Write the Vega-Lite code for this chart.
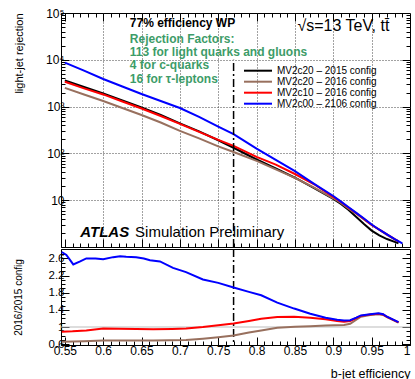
{
  "$schema": "https://vega.github.io/schema/vega-lite/v6.json",
  "background": "white",
  "padding": {"left": 12, "top": 6, "right": 3, "bottom": 0},
  "bounds": "flush",
  "config": {
    "font": "Liberation Sans",
    "view": {"stroke": "black", "strokeWidth": 1},
    "axis": {"domainColor": "black", "tickColor": "black", "labelColor": "black", "titleColor": "black", "labelFont": "Liberation Sans", "titleFont": "Liberation Sans", "titleFontWeight": "normal", "labelOverlap": false}
  },
  "datasets": {
    "eff": [
      {"eff": 0.55, "rej": 3631, "tagger": "MV2c20 – 2015 config"},
      {"eff": 0.575, "rej": 2630, "tagger": "MV2c20 – 2015 config"},
      {"eff": 0.6, "rej": 1905, "tagger": "MV2c20 – 2015 config"},
      {"eff": 0.625, "rej": 1349, "tagger": "MV2c20 – 2015 config"},
      {"eff": 0.65, "rej": 955, "tagger": "MV2c20 – 2015 config"},
      {"eff": 0.675, "rej": 661, "tagger": "MV2c20 – 2015 config"},
      {"eff": 0.7, "rej": 437, "tagger": "MV2c20 – 2015 config"},
      {"eff": 0.725, "rej": 295, "tagger": "MV2c20 – 2015 config"},
      {"eff": 0.75, "rej": 191, "tagger": "MV2c20 – 2015 config"},
      {"eff": 0.77, "rej": 132, "tagger": "MV2c20 – 2015 config"},
      {"eff": 0.8, "rej": 74.1, "tagger": "MV2c20 – 2015 config"},
      {"eff": 0.825, "rej": 47.9, "tagger": "MV2c20 – 2015 config"},
      {"eff": 0.85, "rej": 30.2, "tagger": "MV2c20 – 2015 config"},
      {"eff": 0.875, "rej": 18.2, "tagger": "MV2c20 – 2015 config"},
      {"eff": 0.9, "rej": 10.7, "tagger": "MV2c20 – 2015 config"},
      {"eff": 0.91, "rej": 8.32, "tagger": "MV2c20 – 2015 config"},
      {"eff": 0.92, "rej": 6.17, "tagger": "MV2c20 – 2015 config"},
      {"eff": 0.93, "rej": 4.37, "tagger": "MV2c20 – 2015 config"},
      {"eff": 0.94, "rej": 3.09, "tagger": "MV2c20 – 2015 config"},
      {"eff": 0.95, "rej": 2.24, "tagger": "MV2c20 – 2015 config"},
      {"eff": 0.96, "rej": 1.78, "tagger": "MV2c20 – 2015 config"},
      {"eff": 0.97, "rej": 1.48, "tagger": "MV2c20 – 2015 config"},
      {"eff": 0.98, "rej": 1.29, "tagger": "MV2c20 – 2015 config"},
      {"eff": 0.985, "rej": 1.2, "tagger": "MV2c20 – 2015 config"},

      {"eff": 0.55, "rej": 2512, "tagger": "MV2c20 – 2016 config"},
      {"eff": 0.575, "rej": 1820, "tagger": "MV2c20 – 2016 config"},
      {"eff": 0.6, "rej": 1318, "tagger": "MV2c20 – 2016 config"},
      {"eff": 0.625, "rej": 933, "tagger": "MV2c20 – 2016 config"},
      {"eff": 0.65, "rej": 661, "tagger": "MV2c20 – 2016 config"},
      {"eff": 0.675, "rej": 457, "tagger": "MV2c20 – 2016 config"},
      {"eff": 0.7, "rej": 302, "tagger": "MV2c20 – 2016 config"},
      {"eff": 0.725, "rej": 209, "tagger": "MV2c20 – 2016 config"},
      {"eff": 0.75, "rej": 141, "tagger": "MV2c20 – 2016 config"},
      {"eff": 0.77, "rej": 107, "tagger": "MV2c20 – 2016 config"},
      {"eff": 0.8, "rej": 69.2, "tagger": "MV2c20 – 2016 config"},
      {"eff": 0.825, "rej": 45.7, "tagger": "MV2c20 – 2016 config"},
      {"eff": 0.85, "rej": 30.0, "tagger": "MV2c20 – 2016 config"},
      {"eff": 0.875, "rej": 18.6, "tagger": "MV2c20 – 2016 config"},
      {"eff": 0.9, "rej": 11.0, "tagger": "MV2c20 – 2016 config"},
      {"eff": 0.91, "rej": 8.71, "tagger": "MV2c20 – 2016 config"},
      {"eff": 0.92, "rej": 6.61, "tagger": "MV2c20 – 2016 config"},
      {"eff": 0.93, "rej": 5.13, "tagger": "MV2c20 – 2016 config"},
      {"eff": 0.94, "rej": 3.89, "tagger": "MV2c20 – 2016 config"},
      {"eff": 0.95, "rej": 2.95, "tagger": "MV2c20 – 2016 config"},
      {"eff": 0.96, "rej": 2.34, "tagger": "MV2c20 – 2016 config"},
      {"eff": 0.97, "rej": 1.82, "tagger": "MV2c20 – 2016 config"},
      {"eff": 0.98, "rej": 1.45, "tagger": "MV2c20 – 2016 config"},
      {"eff": 0.985, "rej": 1.32, "tagger": "MV2c20 – 2016 config"},

      {"eff": 0.55, "rej": 3388, "tagger": "MV2c10 – 2016 config"},
      {"eff": 0.575, "rej": 2455, "tagger": "MV2c10 – 2016 config"},
      {"eff": 0.6, "rej": 1820, "tagger": "MV2c10 – 2016 config"},
      {"eff": 0.625, "rej": 1288, "tagger": "MV2c10 – 2016 config"},
      {"eff": 0.65, "rej": 912, "tagger": "MV2c10 – 2016 config"},
      {"eff": 0.675, "rej": 631, "tagger": "MV2c10 – 2016 config"},
      {"eff": 0.7, "rej": 427, "tagger": "MV2c10 – 2016 config"},
      {"eff": 0.725, "rej": 288, "tagger": "MV2c10 – 2016 config"},
      {"eff": 0.75, "rej": 195, "tagger": "MV2c10 – 2016 config"},
      {"eff": 0.77, "rej": 145, "tagger": "MV2c10 – 2016 config"},
      {"eff": 0.8, "rej": 84, "tagger": "MV2c10 – 2016 config"},
      {"eff": 0.825, "rej": 57.5, "tagger": "MV2c10 – 2016 config"},
      {"eff": 0.85, "rej": 36.3, "tagger": "MV2c10 – 2016 config"},
      {"eff": 0.875, "rej": 21.9, "tagger": "MV2c10 – 2016 config"},
      {"eff": 0.9, "rej": 11.8, "tagger": "MV2c10 – 2016 config"},
      {"eff": 0.91, "rej": 9.2, "tagger": "MV2c10 – 2016 config"},
      {"eff": 0.92, "rej": 6.92, "tagger": "MV2c10 – 2016 config"},
      {"eff": 0.93, "rej": 5.25, "tagger": "MV2c10 – 2016 config"},
      {"eff": 0.94, "rej": 3.98, "tagger": "MV2c10 – 2016 config"},
      {"eff": 0.95, "rej": 2.95, "tagger": "MV2c10 – 2016 config"},
      {"eff": 0.96, "rej": 2.34, "tagger": "MV2c10 – 2016 config"},
      {"eff": 0.97, "rej": 1.86, "tagger": "MV2c10 – 2016 config"},
      {"eff": 0.98, "rej": 1.48, "tagger": "MV2c10 – 2016 config"},
      {"eff": 0.985, "rej": 1.32, "tagger": "MV2c10 – 2016 config"},

      {"eff": 0.55, "rej": 8710, "tagger": "MV2c00 – 2106 config"},
      {"eff": 0.575, "rej": 5888, "tagger": "MV2c00 – 2106 config"},
      {"eff": 0.6, "rej": 3890, "tagger": "MV2c00 – 2106 config"},
      {"eff": 0.625, "rej": 2692, "tagger": "MV2c00 – 2106 config"},
      {"eff": 0.65, "rej": 1862, "tagger": "MV2c00 – 2106 config"},
      {"eff": 0.675, "rej": 1318, "tagger": "MV2c00 – 2106 config"},
      {"eff": 0.7, "rej": 933, "tagger": "MV2c00 – 2106 config"},
      {"eff": 0.725, "rej": 603, "tagger": "MV2c00 – 2106 config"},
      {"eff": 0.75, "rej": 372, "tagger": "MV2c00 – 2106 config"},
      {"eff": 0.77, "rej": 257, "tagger": "MV2c00 – 2106 config"},
      {"eff": 0.8, "rej": 126, "tagger": "MV2c00 – 2106 config"},
      {"eff": 0.825, "rej": 72.4, "tagger": "MV2c00 – 2106 config"},
      {"eff": 0.85, "rej": 41.7, "tagger": "MV2c00 – 2106 config"},
      {"eff": 0.875, "rej": 22.4, "tagger": "MV2c00 – 2106 config"},
      {"eff": 0.9, "rej": 12.3, "tagger": "MV2c00 – 2106 config"},
      {"eff": 0.91, "rej": 9.3, "tagger": "MV2c00 – 2106 config"},
      {"eff": 0.92, "rej": 7.08, "tagger": "MV2c00 – 2106 config"},
      {"eff": 0.93, "rej": 5.37, "tagger": "MV2c00 – 2106 config"},
      {"eff": 0.94, "rej": 4.07, "tagger": "MV2c00 – 2106 config"},
      {"eff": 0.95, "rej": 3.02, "tagger": "MV2c00 – 2106 config"},
      {"eff": 0.96, "rej": 2.34, "tagger": "MV2c00 – 2106 config"},
      {"eff": 0.97, "rej": 1.86, "tagger": "MV2c00 – 2106 config"},
      {"eff": 0.98, "rej": 1.48, "tagger": "MV2c00 – 2106 config"},
      {"eff": 0.99, "rej": 1.2, "tagger": "MV2c00 – 2106 config"}
    ],
    "ratio": [
      {"eff": 0.546, "ratio": 0.655, "tagger": "MV2c20 – 2016 config"},
      {"eff": 0.575, "ratio": 0.67, "tagger": "MV2c20 – 2016 config"},
      {"eff": 0.6, "ratio": 0.687, "tagger": "MV2c20 – 2016 config"},
      {"eff": 0.665, "ratio": 0.687, "tagger": "MV2c20 – 2016 config"},
      {"eff": 0.708, "ratio": 0.694, "tagger": "MV2c20 – 2016 config"},
      {"eff": 0.73, "ratio": 0.725, "tagger": "MV2c20 – 2016 config"},
      {"eff": 0.75, "ratio": 0.76, "tagger": "MV2c20 – 2016 config"},
      {"eff": 0.77, "ratio": 0.8, "tagger": "MV2c20 – 2016 config"},
      {"eff": 0.79, "ratio": 0.87, "tagger": "MV2c20 – 2016 config"},
      {"eff": 0.806, "ratio": 0.92, "tagger": "MV2c20 – 2016 config"},
      {"eff": 0.827, "ratio": 0.98, "tagger": "MV2c20 – 2016 config"},
      {"eff": 0.85, "ratio": 1.005, "tagger": "MV2c20 – 2016 config"},
      {"eff": 0.87, "ratio": 1.02, "tagger": "MV2c20 – 2016 config"},
      {"eff": 0.89, "ratio": 1.035, "tagger": "MV2c20 – 2016 config"},
      {"eff": 0.914, "ratio": 1.045, "tagger": "MV2c20 – 2016 config"},
      {"eff": 0.922, "ratio": 1.075, "tagger": "MV2c20 – 2016 config"},
      {"eff": 0.93, "ratio": 1.17, "tagger": "MV2c20 – 2016 config"},
      {"eff": 0.936, "ratio": 1.24, "tagger": "MV2c20 – 2016 config"},
      {"eff": 0.948, "ratio": 1.28, "tagger": "MV2c20 – 2016 config"},
      {"eff": 0.959, "ratio": 1.3, "tagger": "MV2c20 – 2016 config"},
      {"eff": 0.965, "ratio": 1.28, "tagger": "MV2c20 – 2016 config"},
      {"eff": 0.97, "ratio": 1.23, "tagger": "MV2c20 – 2016 config"},
      {"eff": 0.985, "ratio": 1.1, "tagger": "MV2c20 – 2016 config"},

      {"eff": 0.546, "ratio": 0.89, "tagger": "MV2c10 – 2016 config"},
      {"eff": 0.56, "ratio": 0.9, "tagger": "MV2c10 – 2016 config"},
      {"eff": 0.578, "ratio": 0.92, "tagger": "MV2c10 – 2016 config"},
      {"eff": 0.6, "ratio": 0.965, "tagger": "MV2c10 – 2016 config"},
      {"eff": 0.62, "ratio": 0.96, "tagger": "MV2c10 – 2016 config"},
      {"eff": 0.643, "ratio": 0.955, "tagger": "MV2c10 – 2016 config"},
      {"eff": 0.665, "ratio": 0.945, "tagger": "MV2c10 – 2016 config"},
      {"eff": 0.69, "ratio": 0.955, "tagger": "MV2c10 – 2016 config"},
      {"eff": 0.708, "ratio": 0.967, "tagger": "MV2c10 – 2016 config"},
      {"eff": 0.73, "ratio": 0.998, "tagger": "MV2c10 – 2016 config"},
      {"eff": 0.75, "ratio": 1.04, "tagger": "MV2c10 – 2016 config"},
      {"eff": 0.77, "ratio": 1.08, "tagger": "MV2c10 – 2016 config"},
      {"eff": 0.79, "ratio": 1.14, "tagger": "MV2c10 – 2016 config"},
      {"eff": 0.806, "ratio": 1.19, "tagger": "MV2c10 – 2016 config"},
      {"eff": 0.827, "ratio": 1.235, "tagger": "MV2c10 – 2016 config"},
      {"eff": 0.849, "ratio": 1.24, "tagger": "MV2c10 – 2016 config"},
      {"eff": 0.87, "ratio": 1.215, "tagger": "MV2c10 – 2016 config"},
      {"eff": 0.89, "ratio": 1.18, "tagger": "MV2c10 – 2016 config"},
      {"eff": 0.905, "ratio": 1.14, "tagger": "MV2c10 – 2016 config"},
      {"eff": 0.914, "ratio": 1.12, "tagger": "MV2c10 – 2016 config"},
      {"eff": 0.922, "ratio": 1.14, "tagger": "MV2c10 – 2016 config"},
      {"eff": 0.93, "ratio": 1.21, "tagger": "MV2c10 – 2016 config"},
      {"eff": 0.936, "ratio": 1.26, "tagger": "MV2c10 – 2016 config"},
      {"eff": 0.948, "ratio": 1.29, "tagger": "MV2c10 – 2016 config"},
      {"eff": 0.959, "ratio": 1.31, "tagger": "MV2c10 – 2016 config"},
      {"eff": 0.965, "ratio": 1.29, "tagger": "MV2c10 – 2016 config"},
      {"eff": 0.97, "ratio": 1.235, "tagger": "MV2c10 – 2016 config"},
      {"eff": 0.985, "ratio": 1.11, "tagger": "MV2c10 – 2016 config"},

      {"eff": 0.546, "ratio": 2.75, "tagger": "MV2c00 – 2106 config"},
      {"eff": 0.552, "ratio": 2.68, "tagger": "MV2c00 – 2106 config"},
      {"eff": 0.561, "ratio": 2.46, "tagger": "MV2c00 – 2106 config"},
      {"eff": 0.57, "ratio": 2.53, "tagger": "MV2c00 – 2106 config"},
      {"eff": 0.578, "ratio": 2.6, "tagger": "MV2c00 – 2106 config"},
      {"eff": 0.59, "ratio": 2.6, "tagger": "MV2c00 – 2106 config"},
      {"eff": 0.6, "ratio": 2.58, "tagger": "MV2c00 – 2106 config"},
      {"eff": 0.613, "ratio": 2.63, "tagger": "MV2c00 – 2106 config"},
      {"eff": 0.622, "ratio": 2.65, "tagger": "MV2c00 – 2106 config"},
      {"eff": 0.63, "ratio": 2.64, "tagger": "MV2c00 – 2106 config"},
      {"eff": 0.643, "ratio": 2.63, "tagger": "MV2c00 – 2106 config"},
      {"eff": 0.653, "ratio": 2.6, "tagger": "MV2c00 – 2106 config"},
      {"eff": 0.661, "ratio": 2.56, "tagger": "MV2c00 – 2106 config"},
      {"eff": 0.674, "ratio": 2.53, "tagger": "MV2c00 – 2106 config"},
      {"eff": 0.691, "ratio": 2.38, "tagger": "MV2c00 – 2106 config"},
      {"eff": 0.708, "ratio": 2.28, "tagger": "MV2c00 – 2106 config"},
      {"eff": 0.73, "ratio": 2.11, "tagger": "MV2c00 – 2106 config"},
      {"eff": 0.75, "ratio": 2.03, "tagger": "MV2c00 – 2106 config"},
      {"eff": 0.77, "ratio": 1.92, "tagger": "MV2c00 – 2106 config"},
      {"eff": 0.79, "ratio": 1.82, "tagger": "MV2c00 – 2106 config"},
      {"eff": 0.806, "ratio": 1.74, "tagger": "MV2c00 – 2106 config"},
      {"eff": 0.827, "ratio": 1.57, "tagger": "MV2c00 – 2106 config"},
      {"eff": 0.849, "ratio": 1.43, "tagger": "MV2c00 – 2106 config"},
      {"eff": 0.87, "ratio": 1.31, "tagger": "MV2c00 – 2106 config"},
      {"eff": 0.89, "ratio": 1.215, "tagger": "MV2c00 – 2106 config"},
      {"eff": 0.905, "ratio": 1.17, "tagger": "MV2c00 – 2106 config"},
      {"eff": 0.914, "ratio": 1.15, "tagger": "MV2c00 – 2106 config"},
      {"eff": 0.922, "ratio": 1.16, "tagger": "MV2c00 – 2106 config"},
      {"eff": 0.93, "ratio": 1.22, "tagger": "MV2c00 – 2106 config"},
      {"eff": 0.936, "ratio": 1.27, "tagger": "MV2c00 – 2106 config"},
      {"eff": 0.948, "ratio": 1.3, "tagger": "MV2c00 – 2106 config"},
      {"eff": 0.959, "ratio": 1.32, "tagger": "MV2c00 – 2106 config"},
      {"eff": 0.965, "ratio": 1.3, "tagger": "MV2c00 – 2106 config"},
      {"eff": 0.97, "ratio": 1.24, "tagger": "MV2c00 – 2106 config"},
      {"eff": 0.985, "ratio": 1.115, "tagger": "MV2c00 – 2106 config"}
    ]
  },
  "spacing": 2,
  "resolve": {"scale": {"color": "independent"}},
  "vconcat": [
    {
      "width": 349,
      "height": 234,
      "resolve": {"axis": {"x": "independent", "y": "independent"}},
      "layer": [
        {
          "data": {"name": "eff"},
          "mark": {"type": "line", "strokeWidth": 2, "clip": true},
          "encoding": {
            "x": {
              "field": "eff", "type": "quantitative",
              "scale": {"domain": [0.545, 1.0], "nice": false, "zero": false},
              "axis": {
                "values": [0.55,0.56,0.57,0.58,0.59,0.6,0.61,0.62,0.63,0.64,0.65,0.66,0.67,0.68,0.69,0.7,0.71,0.72,0.73,0.74,0.75,0.76,0.77,0.78,0.79,0.8,0.81,0.82,0.83,0.84,0.85,0.86,0.87,0.88,0.89,0.9,0.91,0.92,0.93,0.94,0.95,0.96,0.97,0.98,0.99],
                "tickCount": 200,
                "labels": false, "title": null, "maxExtent": 0, "minExtent": 0,
                "tickSize": {"condition": {"test": "abs(datum.value*20-round(datum.value*20))<0.001", "value": -8}, "value": -4},
                "grid": true, "gridDash": [1, 2], "gridColor": "#444",
                "gridOpacity": {"condition": {"test": "abs(datum.value*20-round(datum.value*20))<0.001 && datum.value>0.56", "value": 1}, "value": 0}
              }
            },
            "y": {
              "field": "rej", "type": "quantitative",
              "scale": {"type": "log", "domain": [1, 100000], "nice": false},
              "axis": {
                "values": [2,3,4,5,6,7,8,9,10,20,30,40,50,60,70,80,90,100,200,300,400,500,600,700,800,900,1000,2000,3000,4000,5000,6000,7000,8000,9000,10000,20000,30000,40000,50000,60000,70000,80000,90000,100000],
                "tickCount": 200,
                "labelExpr": "datum.value==10?'10':datum.value==100?'10²':datum.value==1000?'10³':datum.value==10000?'10⁴':datum.value==100000?'10⁵':''",
                "labelFontSize": 12, "labelPadding": 5, "labelOverlap": false,
                "title": "light-jet rejection", "titleAnchor": "end", "titleFontSize": 11, "titlePadding": 21,
                "tickSize": {"condition": {"test": "abs(log(datum.value)/LN10-round(log(datum.value)/LN10))<0.001", "value": -8}, "value": -4},
                "grid": true, "gridDash": [1, 2], "gridColor": "#444",
                "gridOpacity": {"condition": {"test": "datum.value==10||datum.value==100||datum.value==1000||datum.value==10000", "value": 1}, "value": 0}
              }
            },
            "color": {
              "field": "tagger", "type": "nominal",
              "scale": {"domain": ["MV2c20 – 2015 config", "MV2c20 – 2016 config", "MV2c10 – 2016 config", "MV2c00 – 2106 config"], "range": ["#000000", "#98705e", "#ff0000", "#0000ff"]},
              "legend": {"orient": "none", "legendX": 191, "legendY": 51.7, "title": null, "symbolType": "M-2.8,0H2.8", "symbolSize": 100, "symbolStrokeWidth": 2, "labelFontSize": 10, "labelFont": "Liberation Sans", "labelColor": "black", "labelOffset": 13, "rowPadding": 0}
            }
          }
        },
        {
          "data": {"values": [{}]},
          "mark": {"type": "rule", "strokeDash": [8, 3, 2, 3], "strokeWidth": 1.5, "color": "black"},
          "encoding": {
            "x": {"datum": 0.77, "axis": {"orient": "top", "values": [0.55,0.56,0.57,0.58,0.59,0.6,0.61,0.62,0.63,0.64,0.65,0.66,0.67,0.68,0.69,0.7,0.71,0.72,0.73,0.74,0.75,0.76,0.77,0.78,0.79,0.8,0.81,0.82,0.83,0.84,0.85,0.86,0.87,0.88,0.89,0.9,0.91,0.92,0.93,0.94,0.95,0.96,0.97,0.98,0.99], "tickCount": 200, "labels": false, "title": null, "domain": false, "grid": false, "maxExtent": 0, "minExtent": 0,
              "tickSize": {"condition": {"test": "abs(datum.value*20-round(datum.value*20))<0.001", "value": -8}, "value": -4}}},
            "y": {"datum": 1, "axis": {"orient": "right", "values": [2,3,4,5,6,7,8,9,10,20,30,40,50,60,70,80,90,100,200,300,400,500,600,700,800,900,1000,2000,3000,4000,5000,6000,7000,8000,9000,10000,20000,30000,40000,50000,60000,70000,80000,90000], "tickCount": 200, "labels": false, "title": null, "domain": false, "grid": false, "maxExtent": 0, "minExtent": 0,
              "tickSize": {"condition": {"test": "abs(log(datum.value)/LN10-round(log(datum.value)/LN10))<0.001", "value": -8}, "value": -4}}},
            "y2": {"datum": 10000}
          }
        },
        {
          "data": {"values": [{}]},
          "mark": {"type": "text", "align": "left", "baseline": "middle", "fontSize": 12, "fontWeight": "bold", "color": "black"},
          "encoding": {"x": {"datum": 0.6347, "axis": null}, "y": {"datum": 60300, "axis": null}, "text": {"value": "77% efficiency WP"}}
        },
        {
          "data": {"values": [{}]},
          "mark": {"type": "text", "align": "left", "baseline": "middle", "fontSize": 12, "fontWeight": "bold", "color": "#3d9c68", "lineHeight": 13.3},
          "encoding": {"x": {"datum": 0.6347, "axis": null}, "y": {"datum": 28250, "axis": null}, "text": {"value": ["Rejection Factors:", "113 for light quarks and gluons", "4 for c-quarks", "16 for τ-leptons"]}}
        },
        {
          "data": {"values": [{}]},
          "mark": {"type": "text", "align": "left", "baseline": "middle", "fontSize": 16, "color": "black"},
          "encoding": {"x": {"datum": 0.8532, "axis": null}, "y": {"datum": 52760, "axis": null}, "text": {"value": "√s=13 TeV, tt̄"}}
        },
        {
          "data": {"values": [{}]},
          "mark": {"type": "text", "align": "left", "baseline": "middle", "fontSize": 15, "fontWeight": "bold", "fontStyle": "italic", "color": "black"},
          "encoding": {"x": {"datum": 0.5701, "axis": null}, "y": {"datum": 2.09, "axis": null}, "text": {"value": "ATLAS"}}
        },
        {
          "data": {"values": [{}]},
          "mark": {"type": "text", "align": "left", "baseline": "middle", "fontSize": 15, "color": "black"},
          "encoding": {"x": {"datum": 0.6416, "axis": null}, "y": {"datum": 2.09, "axis": null}, "text": {"value": "Simulation Preliminary"}}
        }
      ]
    },
    {
      "width": 349,
      "height": 96,
      "resolve": {"axis": {"y": "independent"}},
      "layer": [
        {
          "data": {"values": [{}]},
          "mark": {"type": "rule", "strokeWidth": 1, "color": "#bbbbbb"},
          "encoding": {"y": {"datum": 1, "axis": {"orient": "right", "values": [0.6,0.7,0.8,0.9,1.0,1.1,1.2,1.3,1.4,1.5,1.6,1.7,1.8,1.9,2.0,2.1,2.2,2.3,2.4,2.5,2.6,2.7], "tickCount": 200, "labels": false, "title": null, "domain": false, "grid": false, "maxExtent": 0, "minExtent": 0,
            "tickSize": {"condition": {"test": "abs((datum.value-0.6)/0.4-round((datum.value-0.6)/0.4))<0.001", "value": -8}, "value": -4}}}}
        },
        {
          "data": {"values": [{}]},
          "mark": {"type": "rule", "strokeDash": [8, 3, 2, 3], "strokeWidth": 1.5, "color": "black"},
          "encoding": {"x": {"datum": 0.77}}
        },
        {
          "data": {"name": "ratio"},
          "mark": {"type": "line", "strokeWidth": 2, "clip": true},
          "encoding": {
            "x": {
              "field": "eff", "type": "quantitative",
              "scale": {"domain": [0.545, 1.0], "nice": false, "zero": false},
              "axis": {
                "values": [0.55,0.56,0.57,0.58,0.59,0.6,0.61,0.62,0.63,0.64,0.65,0.66,0.67,0.68,0.69,0.7,0.71,0.72,0.73,0.74,0.75,0.76,0.77,0.78,0.79,0.8,0.81,0.82,0.83,0.84,0.85,0.86,0.87,0.88,0.89,0.9,0.91,0.92,0.93,0.94,0.95,0.96,0.97,0.98,0.99,1.0],
                "tickCount": 200,
                "labelExpr": "abs(datum.value*20-round(datum.value*20))<0.001 ? format(datum.value, '~g') : ''",
                "labelFontSize": 12, "labelPadding": 8, "labelOverlap": false,
                "title": "b-jet efficiency", "titleAnchor": "end", "titleFontSize": 12.5, "titlePadding": 7,
                "tickSize": {"condition": {"test": "abs(datum.value*20-round(datum.value*20))<0.001", "value": -8}, "value": -4},
                "grid": false
              }
            },
            "y": {
              "field": "ratio", "type": "quantitative",
              "scale": {"domain": [0.58, 2.82], "nice": false, "zero": false},
              "axis": {
                "values": [0.6,0.7,0.8,0.9,1.0,1.1,1.2,1.3,1.4,1.5,1.6,1.7,1.8,1.9,2.0,2.1,2.2,2.3,2.4,2.5,2.6,2.7],
                "tickCount": 200,
                "labelExpr": "abs((datum.value-0.6)/0.4-round((datum.value-0.6)/0.4))<0.001 ? format(datum.value, '~g') : ''",
                "labelFontSize": 11.5, "labelPadding": 5, "labelOverlap": false,
                "title": "2016/2015 config", "titleFontSize": 10, "titlePadding": 25,
                "tickSize": {"condition": {"test": "abs((datum.value-0.6)/0.4-round((datum.value-0.6)/0.4))<0.001", "value": -8}, "value": -4},
                "grid": false
              }
            },
            "color": {
              "field": "tagger", "type": "nominal",
              "scale": {"domain": ["MV2c20 – 2015 config", "MV2c20 – 2016 config", "MV2c10 – 2016 config", "MV2c00 – 2106 config"], "range": ["#000000", "#98705e", "#ff0000", "#0000ff"]},
              "legend": null
            }
          }
        }
      ]
    }
  ]
}
